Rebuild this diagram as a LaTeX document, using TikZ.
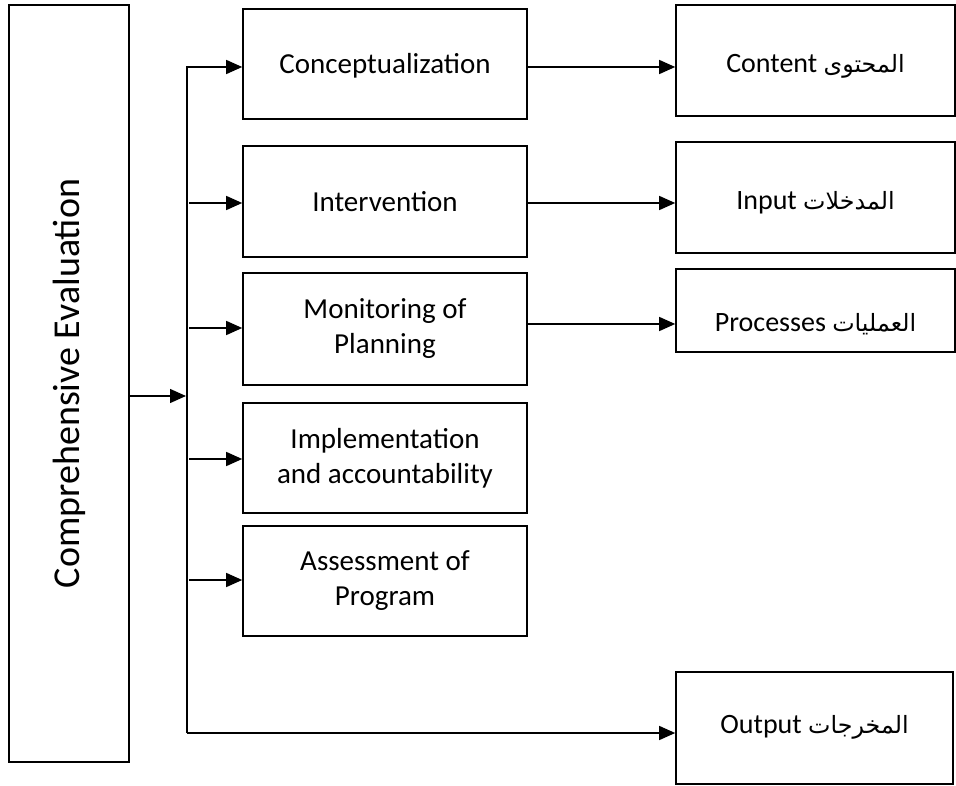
\documentclass[tikz,border=0pt]{standalone}
\usepackage{fontspec}
\setmainfont{Carlito}
\newfontfamily\arabicfont[Script=Arabic,Scale=0.85]{DejaVu Sans}
\TeXXeTstate=1
\usetikzlibrary{arrows.meta}
\begin{document}
\begin{tikzpicture}[x=1pt,y=-1pt,
  box/.style={draw, line width=1.6pt, align=center, inner sep=0pt, minimum width=284pt, font=\fontsize{29}{35}\selectfont},
  rbox/.style={draw, line width=1.6pt, inner sep=0pt, text depth=5pt, font=\fontsize{28}{34}\selectfont},
  arr/.style={line width=1.4pt, -{Triangle[length=16pt,width=14pt]}}]
\useasboundingbox (0,0) rectangle (956,786);
% left box
\node[draw, line width=1.6pt, rotate=90, inner sep=0pt, minimum width=757pt, minimum height=120pt,
      font=\fontsize{38}{45}\selectfont] (ce) at (69,383.5) {Comprehensive Evaluation};
% middle boxes
\node[box, minimum height=110pt, text height=24pt, text depth=4pt] (concept) at (385,64) {Conceptualization};
\node[box, minimum height=111pt] (interv) at (385,201.5) {Intervention};
\node[box, minimum height=112pt] (monit) at (385,329) {Monitoring of\\Planning};
\node[box, minimum height=110pt] (impl) at (385,458) {Implementation\\and accountability};
\node[box, minimum height=110pt] (assess) at (385,581) {Assessment of\\Program};
% right boxes
\node[rbox, minimum width=279pt, minimum height=111pt, text height=30pt] (content) at (815.5,60.5)
  {Content {\arabicfont\beginR المحتوى\endR}};
\node[rbox, minimum width=279pt, minimum height=111pt, text height=30pt] (input) at (815.5,197.5)
  {Input {\arabicfont\beginR المدخلات\endR}};
\node[rbox, minimum width=279pt, minimum height=83pt, text height=48pt] (proc) at (815.5,310.5)
  {Processes {\arabicfont\beginR العمليات\endR}};
\node[rbox, minimum width=277pt, minimum height=112pt, text height=15pt] (output) at (814.5,728)
  {Output {\arabicfont\beginR المخرجات\endR}};
% trunk
\coordinate (tt) at (187,67);
\coordinate (tb) at (187,733);
\coordinate (m) at (186,396);
\draw[arr] (tb) -- (tt) -- (tt -| concept.west);
\draw[arr] (tb) -- (tb -| output.west);
\draw[arr] (ce.south |- m) -- (m);
\foreach \n/\yy in {interv/203, monit/328, impl/459, assess/580}{
  \coordinate (b-\n) at (189,\yy);
  \draw[arr] (b-\n) -- (b-\n -| \n.west);
}
% right arrows
\coordinate (p) at (528,324);
\draw[arr] (concept.east |- tt) -- (content.west |- tt);
\draw[arr] (interv.east |- b-interv) -- (input.west |- b-interv);
\draw[arr] (monit.east |- p) -- (proc.west |- p);
\end{tikzpicture}
\end{document}
